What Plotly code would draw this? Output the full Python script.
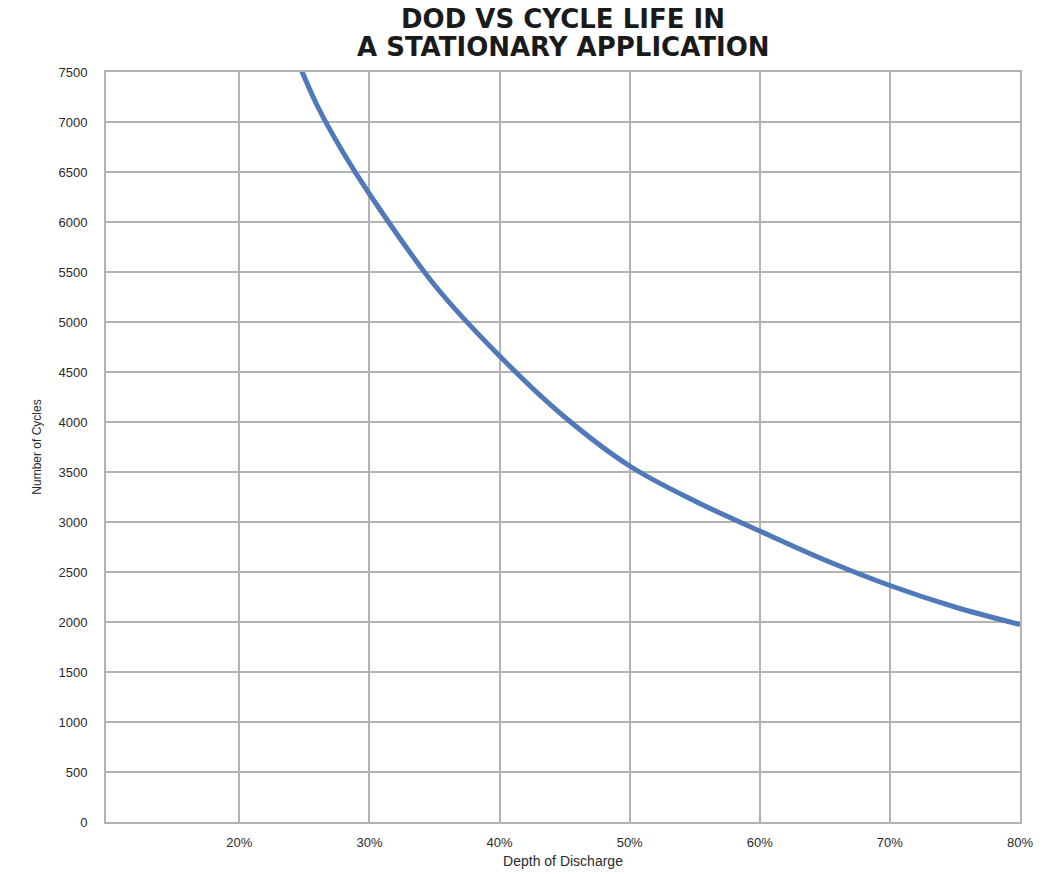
import plotly.graph_objects as go

# Data
dod_pct = [24, 26, 28, 30, 35, 40, 45, 50, 55, 60, 65, 70, 75, 80]
cycles = [7760, 7160, 6690, 6280, 5370, 4660, 4050, 3560, 3210, 2910, 2620, 2365, 2150, 1975]

x_ticks = [20, 30, 40, 50, 60, 70, 80]
x_tick_labels = ["20%", "30%", "40%", "50%", "60%", "70%", "80%"]
y_ticks = list(range(0, 7501, 500))

title_lines = ["DOD VS CYCLE LIFE IN", "A STATIONARY APPLICATION"]

fig = go.Figure()
fig.add_trace(go.Scatter(
    x=dod_pct, y=cycles, mode="lines",
    line=dict(color="#4f79b9", width=5, shape="spline", smoothing=1.0),
    hoverinfo="x+y", showlegend=False,
))

grid_col = "#b3b3b3"
fig.update_layout(
    width=1046, height=874,
    margin=dict(l=106, r=26, t=72, b=52, autoexpand=False),
    paper_bgcolor="white", plot_bgcolor="white",
    font=dict(family="Liberation Sans, Arial, sans-serif", color="#333333"),
    xaxis=dict(
        range=[9.75, 80], tickvals=x_ticks, ticktext=x_tick_labels,
        showgrid=True, gridcolor=grid_col, gridwidth=2,
        showline=True, linecolor=grid_col, linewidth=2, mirror=True,
        ticks="", ticklabelstandoff=7, zeroline=False, automargin=False,
        tickfont=dict(size=13, color="#2a2a2a"),
        title=dict(text="Depth of Discharge", font=dict(size=14, color="#2a2a2a"), standoff=8),
    ),
    yaxis=dict(
        range=[0, 7500], tickvals=y_ticks,
        showgrid=True, gridcolor=grid_col, gridwidth=2,
        showline=True, linecolor=grid_col, linewidth=2, mirror=True,
        ticks="", ticklabelstandoff=14, zeroline=False, automargin=False,
        tickfont=dict(size=13, color="#2a2a2a"),
        title=dict(text="Number of Cycles", font=dict(size=12, color="#2a2a2a"), standoff=14),
    ),
    annotations=[
        dict(text="<b>" + title_lines[0] + "</b>", x=0.5, y=1.0707, xref="paper", yref="paper",
             xanchor="center", yanchor="middle", showarrow=False,
             font=dict(family="DejaVu Sans, sans-serif", size=26, color="#1a1a1a")),
        dict(text="<b>" + title_lines[1] + "</b>", x=0.5, y=1.0333, xref="paper", yref="paper",
             xanchor="center", yanchor="middle", showarrow=False,
             font=dict(family="DejaVu Sans, sans-serif", size=26, color="#1a1a1a")),
    ],
)

fig.write_html("out.html")
